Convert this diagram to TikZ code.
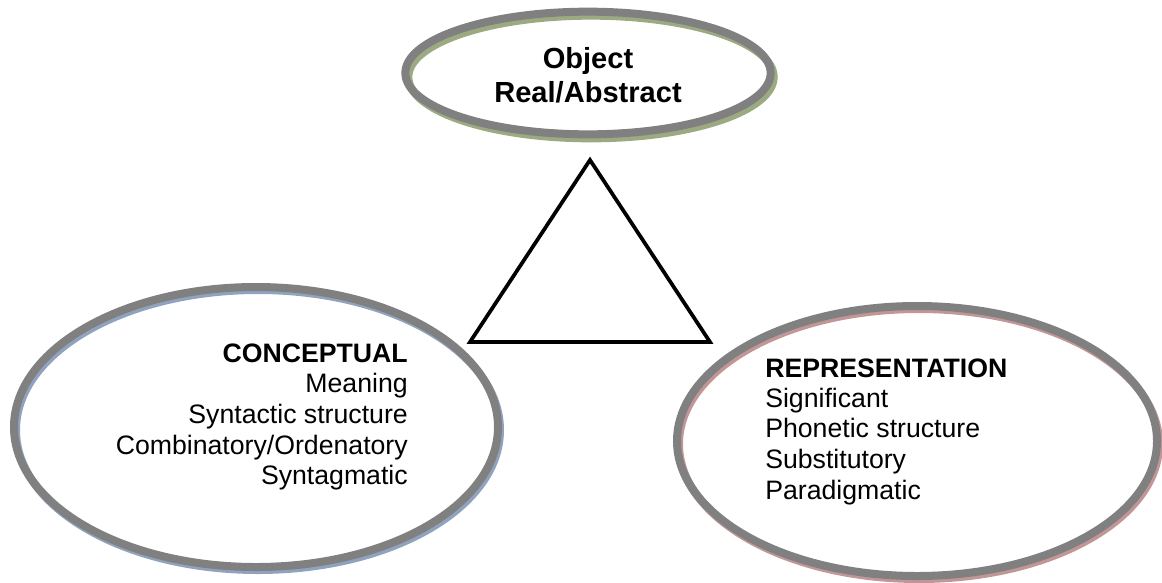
\documentclass[tikz,border=0pt]{standalone}
\usepackage{fontspec}
\setmainfont{Liberation Sans}
\usetikzlibrary{shapes.geometric}
\definecolor{ringgray}{HTML}{808080}
\definecolor{shgreen}{HTML}{9CAA82}
\definecolor{shblue}{HTML}{8FA3BE}
\definecolor{shred}{HTML}{C29696}
\tikzset{
  ring/.style={ellipse, draw=ringgray, line width=6pt, inner sep=0pt},
  ringshadow/.style={ellipse, line width=6pt, inner sep=0pt},
  label/.style={inner sep=0pt, font=\fontsize{20}{22.9}\selectfont},
  toplabel/.style={inner sep=0pt, anchor=base, font=\fontsize{21.8}{25}\selectfont\bfseries},
}
\begin{document}
\begin{tikzpicture}[x=0.75pt,y=-0.75pt]
\useasboundingbox (0,0) rectangle (1162,582);
% shadows
\node[ringshadow, draw=shgreen, minimum width=274pt, minimum height=92pt] (objsh) at (591,77) {};
\node[ringshadow, draw=shblue, minimum width=363pt, minimum height=210pt] (consh) at (258,430) {};
\node[ringshadow, draw=shred, minimum width=360pt, minimum height=202.5pt] (repsh) at (919,444) {};
% rings
\node[ring, minimum width=274pt, minimum height=92pt] (obj) at (588,73) {};
\node[ring, minimum width=363pt, minimum height=210pt] (con) at (256,427) {};
\node[ring, minimum width=360pt, minimum height=202.5pt] (rep) at (917,441) {};
% triangle
\coordinate (apex) at (590,160);
\coordinate (bl) at (470,342);
\coordinate (br) at (710,342);
\draw[line width=2.8pt, line join=miter] (apex) -- (bl) -- (br) -- cycle;
% texts
\node[toplabel] (t1) at (588,68) {Object};
\node[toplabel] (t2) at (588,102) {Real/Abstract};
\node[label, anchor=base east, font=\fontsize{20}{22.9}\selectfont\bfseries] (c0) at (408,362) {CONCEPTUAL};
\node[label, anchor=base east] (c1) at (408,392) {Meaning};
\node[label, anchor=base east] (c2) at (408,423) {Syntactic structure};
\node[label, anchor=base east] (c3) at (408,454) {Combinatory/Ordenatory};
\node[label, anchor=base east] (c4) at (408,484) {Syntagmatic};
\node[label, anchor=base west, font=\fontsize{20}{22.9}\selectfont\bfseries] (r0) at (765,377) {REPRESENTATION};
\node[label, anchor=base west] (r1) at (765,407) {Significant};
\node[label, anchor=base west] (r2) at (765,437) {Phonetic structure};
\node[label, anchor=base west] (r3) at (765,468) {Substitutory};
\node[label, anchor=base west] (r4) at (765,499) {Paradigmatic};
\end{tikzpicture}
\end{document}
